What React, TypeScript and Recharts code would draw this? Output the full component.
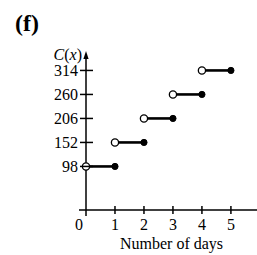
import { LineChart, Line, XAxis, YAxis } from "recharts";

// step pieces: cost charged for each day interval (open at left, closed at right)
const dayStarts = [0, 1, 2, 3, 4];
const dayEnds = [1, 2, 3, 4, 5];
const costs = [98, 152, 206, 260, 314];
const xTicks = [0, 1, 2, 3, 4, 5];
const yTicks = [98, 152, 206, 260, 314];

const FONT = '"Liberation Serif", "Times New Roman", serif';

const segments = costs.map((c, i) => [
  { day: dayStarts[i], cost: c },
  { day: dayEnds[i], cost: c },
]);

const StepDot = (props: any) => {
  const { cx, cy, index } = props;
  if (cx == null || cy == null) return null;
  const open = index === 0;
  return (
    <circle
      key={`dot-${index}`}
      cx={cx}
      cy={cy}
      r={open ? 3.6 : 3.1}
      fill={open ? "#fff" : "#000"}
      stroke="#000"
      strokeWidth={open ? 1.3 : 1}
    />
  );
};

const XTick = (props: any) => {
  const { x, y, payload } = props;
  const v = payload.value;
  if (v === 0) {
    return (
      <g>
        <line x1={x} y1={y} x2={x} y2={y + 6} stroke="#000" strokeWidth={1.5} />
        <line x1={x - 7} y1={y} x2={x} y2={y} stroke="#000" strokeWidth={1.5} />
        <text x={x - 7} y={y + 20} textAnchor="middle" fontFamily={FONT} fontSize={16} fill="#000">
          0
        </text>
      </g>
    );
  }
  return (
    <g>
      <line x1={x} y1={y - 4} x2={x} y2={y + 4} stroke="#000" strokeWidth={1.5} />
      <text x={x} y={y + 20} textAnchor="middle" fontFamily={FONT} fontSize={16} fill="#000">
        {v}
      </text>
    </g>
  );
};

const YTick = (props: any) => {
  const { x, y, payload } = props;
  return (
    <g>
      <line x1={x - 6} y1={y} x2={x + 7} y2={y} stroke="#000" strokeWidth={1.5} />
      <text x={x - 8} y={y + 5.5} textAnchor="end" fontFamily={FONT} fontSize={16} fill="#000">
        {payload.value}
      </text>
    </g>
  );
};

const YLabel = (props: any) => {
  const vb = props.viewBox || {};
  const ax = vb.x + vb.width;
  const top = vb.y;
  return (
    <g>
      <polygon points={`${ax},${top - 3} ${ax - 2.6},${top + 5} ${ax + 2.6},${top + 5}`} fill="#000" />
      <text x={ax - 4} y={top + 6} textAnchor="end" fontFamily={FONT} fontSize={16} fill="#000">
        <tspan fontStyle="italic">C</tspan>
        <tspan>(</tspan>
        <tspan fontStyle="italic">x</tspan>
        <tspan>)</tspan>
      </text>
    </g>
  );
};

const XLabel = (props: any) => {
  const vb = props.viewBox || {};
  return (
    <text x={vb.x + vb.width / 2} y={vb.y + 39} textAnchor="middle" fontFamily={FONT} fontSize={16} fill="#000">
      Number of days
    </text>
  );
};

export default function App() {
  return (
    <div style={{ position: "absolute", left: 0, top: 0, width: 257, height: 255, background: "#fff", overflow: "hidden" }}>
      <div style={{ position: "absolute", left: 15, top: 11, fontFamily: FONT, fontWeight: "bold", fontSize: 24, lineHeight: "24px" }}>
        (f)
      </div>
      <LineChart width={257} height={255} margin={{ top: 54, right: 0, bottom: 15, left: 46 }}>
        <XAxis
          dataKey="day"
          type="number"
          domain={[0, 5.9]}
          ticks={xTicks}
          interval={0}
          height={30}
          tickSize={0}
          tickMargin={0}
          tickLine={false}
          axisLine={{ stroke: "#000", strokeWidth: 1.5 }}
          tick={<XTick />}
          label={XLabel}
        />
        <YAxis
          type="number"
          domain={[0, 351]}
          ticks={yTicks}
          interval={0}
          width={40}
          tickSize={0}
          tickMargin={0}
          tickLine={false}
          axisLine={{ stroke: "#000", strokeWidth: 1.5 }}
          tick={<YTick />}
          label={YLabel}
        />
        {segments.map((seg, i) => (
          <Line
            key={`seg-${i}`}
            data={seg}
            dataKey="cost"
            stroke="#000"
            strokeWidth={2.6}
            dot={StepDot}
            activeDot={false}
            isAnimationActive={false}
          />
        ))}
      </LineChart>
    </div>
  );
}
